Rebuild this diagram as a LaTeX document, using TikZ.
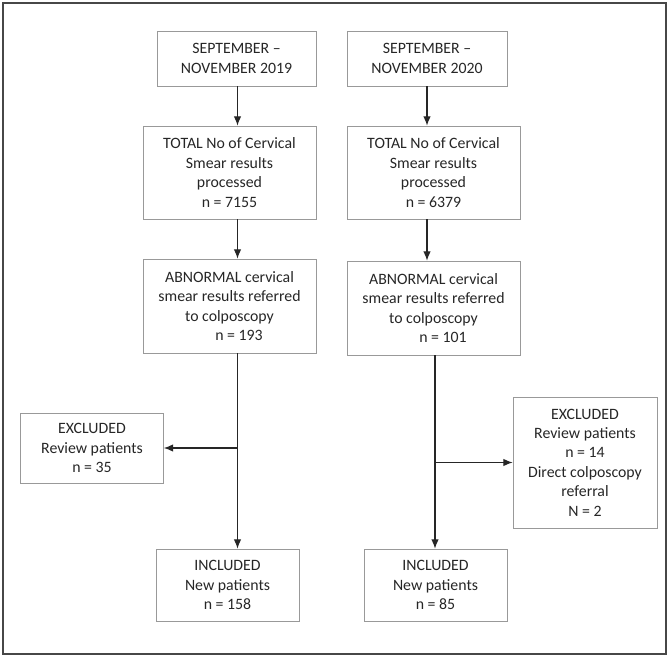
\documentclass[tikz,border=0pt]{standalone}
\usepackage{fontspec}
\setmainfont{Carlito}
\usetikzlibrary{arrows.meta}

\begin{document}
\begin{tikzpicture}[x=0.03cm, y=-0.03cm,
    box/.style={draw=black!40, line width=0.6pt, align=center, inner sep=2pt,
      font=\fontsize{13.5}{16.6}\selectfont, text=black!85},
    flow/.style={draw=black!85, line width=1pt, -{Latex[length=8pt,width=6.5pt]}}]

  % ---- frame: picture measured in pixels, y runs downward ----
  \useasboundingbox (0,0) rectangle (670,657);
  \draw[black!72, line width=1.3pt] (3,3) rectangle (666,654);

  % ---- boxes: {name / x / y / width / height / text} ----
  \foreach \nm/\xx/\yy/\ww/\hh/\txt in {
      sep19/236.5/58.5/159/55/{SEPTEMBER –\\NOVEMBER 2019},
      sep20/427/58.5/160/55/{SEPTEMBER –\\NOVEMBER 2020},
      tot19/229.5/172.5/173/93/{TOTAL No of Cervical\\Smear results\\processed\\n = 7155},
      tot20/433.5/172.5/173/93/{TOTAL No of Cervical\\Smear results\\processed\\n = 6379},
      abn19/229.5/306/173/94/{ABNORMAL cervical\\smear results referred\\to colposcopy\\\hspace*{1.2em}n = 193},
      abn20/433.5/308/173/94/{ABNORMAL cervical\\smear results referred\\to colposcopy\\\hspace*{1.2em}n = 101},
      exc19/92/448/143/70/{EXCLUDED\\Review patients\\n = 35},
      exc20/585/462.5/144/131/{EXCLUDED\\Review patients\\n = 14\\Direct colposcopy\\referral\\N = 2},
      inc19/227.5/585/143/72/{INCLUDED\\New patients\\n = 158},
      inc20/435.5/585/143/72/{INCLUDED\\New patients\\n = 85}} {
    \node[box, minimum width=\ww*0.03cm, minimum height=\hh*0.03cm] (\nm) at (\xx,\yy) {\txt};
  }

  % ---- columns the connectors run along ----
  \coordinate (colL) at (237.5,0);
  \coordinate (colRtop) at (427,0);
  \coordinate (colR) at (435,0);

  % ---- 2019 ----
  \draw[flow] (sep19.south -| colL) -- (tot19.north -| colL);
  \draw[flow] (tot19.south -| colL) -- (abn19.north -| colL);
  \draw[flow] (abn19.south -| colL) -- (inc19.north -| colL);
  \draw[flow] (exc19.east -| colL) -- (exc19.east);

  % ---- 2020 ----
  \draw[flow] (sep20.south -| colRtop) -- (tot20.north -| colRtop);
  \draw[flow] (tot20.south -| colRtop) -- (abn20.north -| colRtop);
  \draw[flow] (abn20.south -| colR) -- (inc20.north -| colR);
  \draw[flow] (exc20.west -| colR) -- (exc20.west);

\end{tikzpicture}
\end{document}
